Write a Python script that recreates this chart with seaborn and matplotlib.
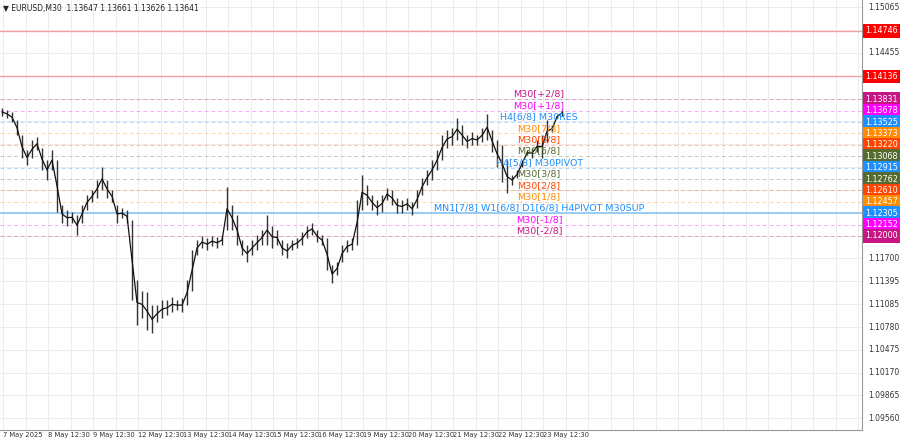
import numpy as np
import pandas as pd
import matplotlib
matplotlib.use("Agg")
import matplotlib.pyplot as plt
import seaborn as sns

sns.set_style("white")
plt.rcParams['font.family'] = ['DejaVu Sans']

# price path, one sample per ~2.7 hours (high, low)
highs = [1.1371, 1.1369, 1.1366, 1.1355, 1.1335, 1.1315, 1.1328, 1.1332, 1.1318, 1.1302,
         1.1315, 1.1302, 1.1241, 1.1235, 1.1232, 1.1228, 1.1241, 1.1255, 1.1261, 1.1275,
         1.1292, 1.1275, 1.1261, 1.1241, 1.1237, 1.1235, 1.1221, 1.1141, 1.1127, 1.1125,
         1.1107, 1.1107, 1.1114, 1.1114, 1.1119, 1.1114, 1.1117, 1.1141, 1.1181, 1.1194,
         1.1200, 1.1197, 1.1200, 1.1198, 1.1201, 1.1265, 1.1241, 1.1228, 1.1194, 1.1188,
         1.1194, 1.1201, 1.1208, 1.1228, 1.1214, 1.1208, 1.1194, 1.1190, 1.1194, 1.1197,
         1.1205, 1.1214, 1.1218, 1.1208, 1.1201, 1.1197, 1.1161, 1.1165, 1.1188, 1.1194,
         1.1197, 1.1248, 1.1282, 1.1268, 1.1255, 1.1248, 1.1255, 1.1264, 1.1261, 1.1251,
         1.1248, 1.1251, 1.1245, 1.1261, 1.1277, 1.1288, 1.1302, 1.1315, 1.1335, 1.1342,
         1.1344, 1.1358, 1.1348, 1.1335, 1.1339, 1.1335, 1.1344, 1.1363, 1.1342, 1.1328,
         1.1322, 1.1302, 1.1282, 1.1288, 1.1302, 1.1315, 1.1318, 1.1328, 1.1335, 1.1355,
         1.1348, 1.1362, 1.1369]
lows = [1.1361, 1.1358, 1.1352, 1.1335, 1.1304, 1.1295, 1.1304, 1.1315, 1.1288, 1.1275,
        1.1288, 1.1232, 1.1218, 1.1214, 1.1218, 1.1201, 1.1218, 1.1235, 1.1245, 1.1251,
        1.1261, 1.1251, 1.1245, 1.1218, 1.1224, 1.1218, 1.1114, 1.1081, 1.1090, 1.1074,
        1.1070, 1.1085, 1.1090, 1.1094, 1.1098, 1.1101, 1.1098, 1.1107, 1.1127, 1.1174,
        1.1184, 1.1181, 1.1186, 1.1184, 1.1188, 1.1208, 1.1208, 1.1188, 1.1174, 1.1165,
        1.1174, 1.1181, 1.1188, 1.1188, 1.1184, 1.1188, 1.1174, 1.1170, 1.1181, 1.1184,
        1.1188, 1.1197, 1.1201, 1.1192, 1.1188, 1.1154, 1.1137, 1.1148, 1.1165, 1.1178,
        1.1181, 1.1188, 1.1235, 1.1241, 1.1235, 1.1228, 1.1232, 1.1248, 1.1241, 1.1231,
        1.1231, 1.1235, 1.1228, 1.1237, 1.1255, 1.1268, 1.1275, 1.1288, 1.1302, 1.1318,
        1.1322, 1.1328, 1.1322, 1.1318, 1.1322, 1.1322, 1.1326, 1.1328, 1.1312, 1.1292,
        1.1272, 1.1257, 1.1268, 1.1277, 1.1292, 1.1308, 1.1304, 1.1312, 1.1304, 1.1326,
        1.1339, 1.1358, 1.1361]

day_labels = ['7 May 2025', '8 May 12:30', '9 May 12:30', '12 May 12:30', '13 May 12:30',
              '14 May 12:30', '15 May 12:30', '16 May 12:30', '19 May 12:30', '20 May 12:30',
              '21 May 12:30', '22 May 12:30', '23 May 12:30']

# murrey levels
lvl_prices = [1.13831, 1.13678, 1.13525, 1.13373, 1.13220, 1.13068, 1.12915,
              1.12762, 1.12610, 1.12457, 1.12305, 1.12152, 1.12000]
lvl_names = ['M30[+2/8]', 'M30[+1/8]', 'H4[6/8] M30RES', 'M30[7/8]', 'M30[6/8]', 'M30[5/8]',
             'H4[5/8] M30PIVOT', 'M30[3/8]', 'M30[2/8]', 'M30[1/8]',
             'MN1[7/8] W1[6/8] D1[6/8] H4PIVOT M30SUP', 'M30[-1/8]', 'M30[-2/8]']
lvl_colors = ['#C71585', '#FF00FF', '#1E90FF', '#FF8C00', '#FF4500', '#556B2F', '#1E90FF',
              '#556B2F', '#FF4500', '#FF8C00', '#1E90FF', '#FF00FF', '#C71585']
red_prices = [1.14746, 1.14136]

ytick_vals = [1.15065, 1.14760, 1.14455, 1.14145, 1.13840, 1.13535, 1.13225, 1.12920,
              1.12615, 1.12310, 1.12005, 1.11700, 1.11395, 1.11085, 1.10780, 1.10475,
              1.10170, 1.09865, 1.09560]
ytick_shown = [1.15065, 1.14455, 1.11700, 1.11395, 1.11085, 1.10780, 1.10475,
               1.10170, 1.09865, 1.09560]

step = 5          # chart units per sample
day_w = 45        # chart units per day
df = pd.DataFrame({'x': np.arange(len(highs)) * step, 'hi': highs, 'lo': lows})
df['mid'] = (df['hi'] + df['lo']) / 2

fig = plt.figure(figsize=(9, 4.43), dpi=100)
ax = fig.add_axes([0.0, 0.029, 0.958, 0.971])
ax.set_xlim(-2, 860)
ax.set_ylim(1.09401, 1.15159)

# grid
for v in ytick_vals:
    ax.axhline(v, color='#ececec', lw=0.7, zorder=0)
for k in range(40):
    ax.axvline(1 + k * day_w / 2, color='#ececec', lw=0.7, zorder=0)

for p in red_prices:
    ax.axhline(p, color='#F4A0A0', lw=1.0, zorder=1)

for p, name, c in zip(lvl_prices, lvl_names, lvl_colors):
    if name.startswith('MN1'):
        ax.axhline(p, color='#87C5F5', lw=1.2, zorder=1)
    else:
        ax.axhline(p, color=c, lw=0.7, ls=(0, (4, 3)), alpha=0.35, zorder=1)
    ax.text(537, p + 0.0001, name, color=c, fontsize=6.8, ha='center', va='bottom', zorder=4)

# price
ax.vlines(df['x'], df['lo'], df['hi'], color='#333333', lw=1.0, zorder=3)
sns.lineplot(data=df, x='x', y='mid', ax=ax, color='#111111', lw=0.9, zorder=3)

ax.set_xlabel('')
ax.set_ylabel('')
ax.set_xticks([])
ax.set_yticks([])
for s in ['top', 'left']:
    ax.spines[s].set_visible(False)
ax.spines['right'].set_color('#999999')
ax.spines['bottom'].set_color('#999999')

# right price labels
for v in ytick_shown:
    ax.text(1.007, v, f'{v:.5f}', transform=ax.get_yaxis_transform(), fontsize=5.5,
            color='#333333', va='center', ha='left')
for p in red_prices:
    ax.text(1.004, p, f'{p:.5f}', transform=ax.get_yaxis_transform(), fontsize=5.8,
            color='white', va='center', ha='left',
            bbox=dict(boxstyle='square,pad=0.3', fc='#FF0000', ec='none'))
for p, c in zip(lvl_prices, lvl_colors):
    ax.text(1.004, p, f'{p:.5f}', transform=ax.get_yaxis_transform(), fontsize=5.8,
            color='white', va='center', ha='left',
            bbox=dict(boxstyle='square,pad=0.3', fc=c, ec='none'))

# time labels
for k, lab in enumerate(day_labels):
    ax.text(1 + k * day_w, -0.012, lab, transform=ax.get_xaxis_transform(),
            fontsize=4.9, color='#333333', ha='left', va='center')

fig.text(0.003, 0.99, '\u25BC EURUSD,M30  1.13647 1.13661 1.13626 1.13641', fontsize=5.5,
         color='#222222', ha='left', va='top')

fig.savefig('out.png', dpi=100, facecolor='white')
